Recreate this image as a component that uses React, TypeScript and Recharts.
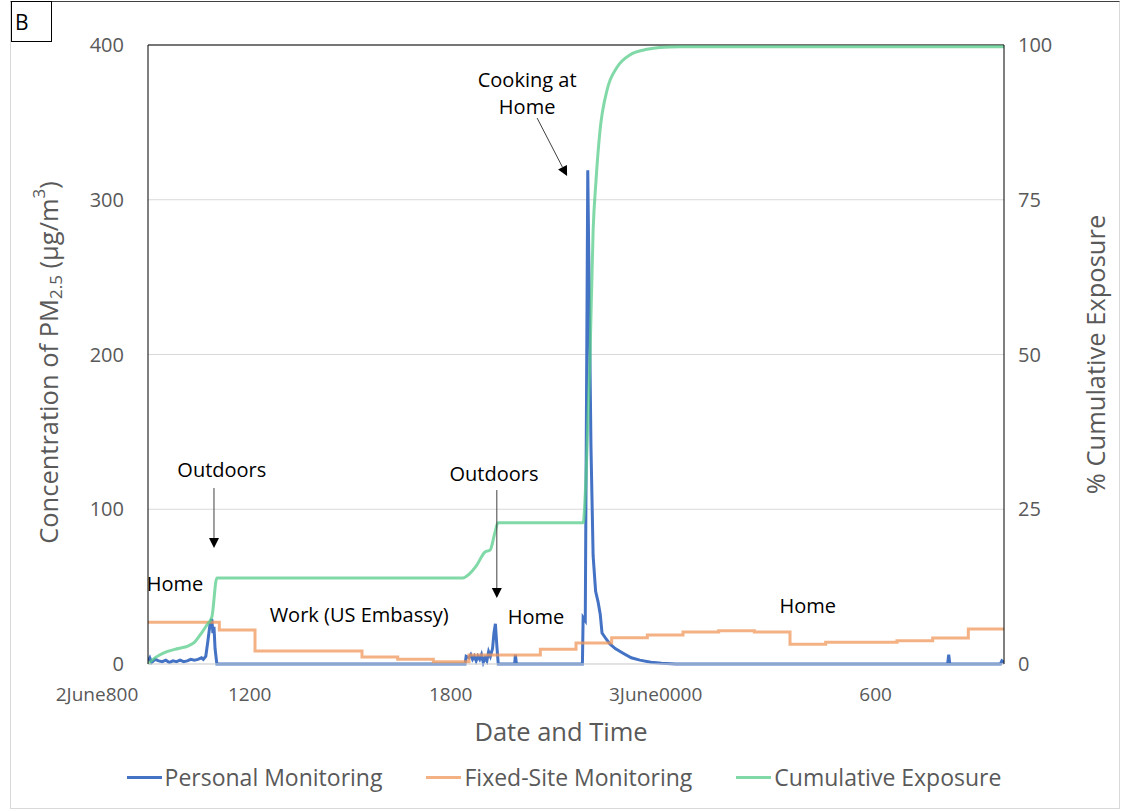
import React from 'react';
import {
  ComposedChart,
  Line,
  XAxis,
  YAxis,
  CartesianGrid,
  ReferenceLine,
  ReferenceDot,
  Legend,
} from 'recharts';

// ---------- DATA (hours after 2 June 08:00) ----------
const personalHours = [
  0, 0.05, 0.1, 0.2, 0.3, 0.4, 0.5, 0.6, 0.7, 0.8, 0.9, 1.0, 1.1, 1.2, 1.3, 1.4, 1.5, 1.55,
  1.62, 1.68, 1.74, 1.79, 1.82, 1.85, 1.88, 1.93,
  8.89, 8.92, 9.0, 9.05, 9.1, 9.15, 9.2, 9.25, 9.3, 9.35, 9.4, 9.45, 9.5, 9.55, 9.6, 9.66, 9.7, 9.74, 9.78, 9.82,
  10.28, 10.3, 10.33,
  12.18, 12.2, 12.26, 12.33, 12.42, 12.48, 12.55, 12.62, 12.68, 12.73, 12.85, 12.95, 13.1, 13.32, 13.55, 13.79, 14.1, 14.4, 14.8,
  22.42, 22.45, 22.48, 23.9, 23.94, 24.0,
];
const personalValues = [
  2, 4, 1, 3, 2, 1.5, 2.5, 1, 2, 1.5, 2.5, 1.5, 2, 3, 2.5, 3, 4, 3,
  5, 15, 26, 29, 20, 24, 10, 0,
  0, 5, 4, 6, 3, 5, 2, 5, 3, 6, 1, 4, 2, 8, 5, 10, 20, 26, 12, 0,
  0, 6, 0,
  0, 30, 28, 319, 140, 70, 47, 40, 32, 20, 16, 13, 10, 7, 4, 2.5, 1.2, 0.5, 0,
  0, 6, 0, 0, 2, 1,
];

const fixedHours = [0, 1, 2, 3, 4, 5, 6, 7, 8, 9, 10, 11, 12, 13, 14, 15, 16, 17, 18, 19, 20, 21, 22, 23, 24];
const fixedValues = [27, 27, 22, 8.4, 8.4, 8.4, 4.5, 3.1, 1.4, 5.8, 5.8, 9.5, 13.6, 17, 18.7, 20.6, 21.5, 20.6, 12.8, 14.1, 14.1, 15, 16.8, 22.6, 22.6];

const cumulativeHours = [
  0, 0.15, 0.53, 0.85, 1.12, 1.3, 1.5, 1.65, 1.79, 1.93,
  8.83, 9.0, 9.2, 9.45, 9.59, 9.73, 9.81,
  12.2, 12.28, 12.39, 12.48, 12.56, 12.67, 12.87, 13.15, 13.51, 13.99, 14.35, 14.91, 24,
];
const cumulativeValues = [
  0, 0.8, 2, 2.5, 2.9, 3.5, 5, 6.3, 7.6, 13.9,
  13.9, 14.5, 15.8, 18.1, 18.4, 21.3, 22.8,
  22.8, 30, 49, 70, 78, 86, 92.7, 96.4, 98.4, 99.3, 99.6, 99.7, 99.7,
];

const tickHours = [0, 4, 10, 16, 22];
const tickLabels = ['2June800', '1200', '1800', '3June0000', '600'];
const leftTicks = [0, 100, 200, 300, 400];
const rightTicks = [0, 25, 50, 75, 100];

const seriesNames = ['Personal Monitoring', 'Fixed-Site Monitoring', 'Cumulative Exposure'];

// annotation text blocks (hour, concentration)
const noteLines = [['Cooking at', 'Home'], ['Outdoors'], ['Outdoors'], ['Home'], ['Work (US Embassy)'], ['Home'], ['Home']];
const noteHours = [10.63, 2.07, 9.7, 0.76, 5.92, 10.88, 18.5];
const noteValues = [368.7, 125.4, 123.4, 51.7, 32.3, 31, 38.1];

// arrows (hour, concentration) start -> end
const arrowFromHours = [10.91, 1.85, 9.78];
const arrowFromValues = [352.8, 113.7, 112.4];
const arrowToHours = [11.75, 1.85, 9.78];
const arrowToValues = [315.3, 75, 42.6];

// ---------- STYLE ----------
const FONT = '"Open Sans", "Noto Sans", sans-serif';
const GREY = '#595959';
const COLORS = ['#4472C4', '#F0975A', '#58CC8B'];
const OPAC = [1, 0.75, 0.75];

const toPoints = (hs: number[], vs: number[]) => hs.map((t, i) => ({ t, v: vs[i] }));
const personalData = toPoints(personalHours, personalValues);
const fixedData = toPoints(fixedHours, fixedValues);
const cumulativeData = toPoints(cumulativeHours, cumulativeValues);

const tickDx = [-51, -41, -54, -63, -57];

const XTick = (props: any) => {
  const { x, y, payload } = props;
  const i = tickHours.indexOf(payload.value);
  return (
    <text
      x={x + (tickDx[i] ?? 0)}
      y={y + 30}
      textAnchor="middle"
      dominantBaseline="central"
      fill={GREY}
      fontSize={19}
      fontFamily={FONT}
    >
      {tickLabels[i] ?? ''}
    </text>
  );
};

const NoteShape = (lines: string[]) => (props: any) => {
  const { cx, cy } = props;
  const lh = 27;
  const start = cy - ((lines.length - 1) * lh) / 2;
  return (
    <g>
      {lines.map((l, k) => (
        <text
          key={k}
          x={cx}
          y={start + k * lh}
          textAnchor="middle"
          dominantBaseline="central"
          fill="#000"
          fontSize={20}
          fontFamily={FONT}
        >
          {l}
        </text>
      ))}
    </g>
  );
};

const ArrowShape = (props: any) => {
  const { x1, y1, x2, y2 } = props;
  const dx = x2 - x1;
  const dy = y2 - y1;
  const len = Math.sqrt(dx * dx + dy * dy) || 1;
  const ux = dx / len;
  const uy = dy / len;
  const hl = 10;
  const hw = 5;
  const bx = x2 - ux * hl;
  const by = y2 - uy * hl;
  const px = -uy;
  const py = ux;
  return (
    <g>
      <line x1={x1} y1={y1} x2={bx} y2={by} stroke="#404040" strokeWidth={1} />
      <polygon
        points={`${x2},${y2} ${bx + px * hw},${by + py * hw} ${bx - px * hw},${by - py * hw}`}
        fill="#000"
      />
    </g>
  );
};

const LeftTitle = (props: any) => {
  const vb = props.viewBox || { x: 0, y: 45, width: 148, height: 619 };
  const cx = 48;
  const cy = vb.y + vb.height / 2 + 8;
  return (
    <text
      x={cx}
      y={cy}
      transform={`rotate(-90, ${cx}, ${cy})`}
      textAnchor="middle"
      dominantBaseline="central"
      fill={GREY}
      fontSize={25.5}
      fontFamily={FONT}
    >
      Concentration of PM
      <tspan fontSize={17} dy={7}>2.5</tspan>
      <tspan dy={-7}> (μg/m</tspan>
      <tspan fontSize={17} dy={-10}>3</tspan>
      <tspan dy={10}>)</tspan>
    </text>
  );
};

const RightTitle = (props: any) => {
  const vb = props.viewBox || { x: 1004, y: 45, width: 124, height: 619 };
  const cx = vb.x + 91;
  const cy = vb.y + vb.height / 2;
  return (
    <text
      x={cx}
      y={cy}
      transform={`rotate(-90, ${cx}, ${cy})`}
      textAnchor="middle"
      dominantBaseline="central"
      fill={GREY}
      fontSize={25.5}
      fontFamily={FONT}
    >
      % Cumulative Exposure
    </text>
  );
};

const XTitle = (props: any) => {
  const vb = props.viewBox || { x: 148, y: 664, width: 856, height: 40 };
  return (
    <text
      x={vb.x + vb.width / 2 - 15}
      y={vb.y + 67}
      textAnchor="middle"
      dominantBaseline="central"
      fill={GREY}
      fontSize={25.5}
      fontFamily={FONT}
    >
      Date and Time
    </text>
  );
};

const LegendContent = () => (
  <div
    style={{
      display: 'flex',
      justifyContent: 'center',
      alignItems: 'center',
      gap: 44,
      height: 30,
      fontFamily: FONT,
      fontSize: 23,
      color: GREY,
      paddingRight: 0,
      whiteSpace: 'nowrap',
    }}
  >
    {seriesNames.map((n, i) => (
      <div key={n} style={{ display: 'flex', alignItems: 'center' }}>
        <span
          style={{
            display: 'inline-block',
            width: 35,
            height: 3,
            background: COLORS[i],
            opacity: OPAC[i],
            marginRight: 3,
          }}
        />
        <span>{n}</span>
      </div>
    ))}
  </div>
);

export default function App() {
  return (
    <div style={{ position: 'absolute', left: 0, top: 0, width: 1128, height: 810, background: '#fff' }}>
      <div
        style={{
          position: 'absolute',
          left: 10,
          top: 1,
          width: 1108,
          height: 806,
          border: '1px solid #d9d9d9',
          borderTop: '1px solid #404040',
        }}
      />
      <div
        style={{
          position: 'absolute',
          left: 11,
          top: 1,
          width: 41,
          height: 41,
          border: '1px solid #000',
          fontFamily: FONT,
          fontSize: 21,
          lineHeight: '41px',
          paddingLeft: 3,
          boxSizing: 'border-box',
          color: '#000',
        }}
      >
        B
      </div>
      <div style={{ position: 'absolute', left: 0, top: 0 }}>
        <ComposedChart width={1128} height={810} margin={{ top: 45, right: 0, bottom: 76, left: 0 }}>
          <CartesianGrid yAxisId="left" vertical={false} stroke="#d9d9d9" strokeWidth={1} />
          <XAxis
            dataKey="t"
            type="number"
            domain={[0, 24]}
            ticks={tickHours}
            interval={0}
            allowDataOverflow
            axisLine={{ stroke: '#d9d9d9', strokeWidth: 1 }}
            tickLine={false}
            tickSize={0}
            tickMargin={0}
            height={40}
            tick={<XTick />}
            label={{ content: <XTitle /> }}
          />
          <YAxis
            yAxisId="left"
            orientation="left"
            domain={[0, 400]}
            ticks={leftTicks}
            width={148}
            axisLine={{ stroke: '#000', strokeWidth: 1 }}
            tickLine={false}
            tickSize={0}
            tickMargin={24}
            tick={{ fill: GREY, fontSize: 20, fontFamily: FONT }}
            label={{ content: <LeftTitle /> }}
          />
          <YAxis
            yAxisId="right"
            orientation="right"
            domain={[0, 100]}
            ticks={rightTicks}
            width={124}
            axisLine={{ stroke: '#000', strokeWidth: 1 }}
            tickLine={false}
            tickSize={0}
            tickMargin={14}
            tick={{ fill: GREY, fontSize: 20, fontFamily: FONT, textAnchor: 'start' }}
            label={{ content: <RightTitle /> }}
          />
          <ReferenceLine yAxisId="left" y={400} stroke="#000" strokeWidth={1} />
          <Line
            yAxisId="left"
            data={personalData}
            dataKey="v"
            name={seriesNames[0]}
            type="linear"
            stroke={COLORS[0]}
            strokeWidth={3}
            dot={false}
            activeDot={false}
            isAnimationActive={false}
          />
          <Line
            yAxisId="left"
            data={fixedData}
            dataKey="v"
            name={seriesNames[1]}
            type="stepAfter"
            stroke={COLORS[1]}
            strokeOpacity={OPAC[1]}
            strokeWidth={3}
            dot={false}
            activeDot={false}
            isAnimationActive={false}
          />
          <Line
            yAxisId="right"
            data={cumulativeData}
            dataKey="v"
            name={seriesNames[2]}
            type="monotone"
            stroke={COLORS[2]}
            strokeOpacity={OPAC[2]}
            strokeWidth={3}
            dot={false}
            activeDot={false}
            isAnimationActive={false}
          />
          {noteLines.map((lines, i) => (
            <ReferenceDot
              key={'n' + i}
              yAxisId="left"
              x={noteHours[i]}
              y={noteValues[i]}
              r={0}
              ifOverflow="visible"
              shape={NoteShape(lines)}
            />
          ))}
          {arrowFromHours.map((h, i) => (
            <ReferenceLine
              key={'a' + i}
              yAxisId="left"
              ifOverflow="visible"
              segment={[
                { x: h, y: arrowFromValues[i] },
                { x: arrowToHours[i], y: arrowToValues[i] },
              ]}
              shape={ArrowShape}
            />
          ))}
          <Legend
            content={<LegendContent />}
            wrapperStyle={{ position: 'absolute', left: 0, top: 762, width: 1128, height: 30 }}
          />
        </ComposedChart>
      </div>
    </div>
  );
}
